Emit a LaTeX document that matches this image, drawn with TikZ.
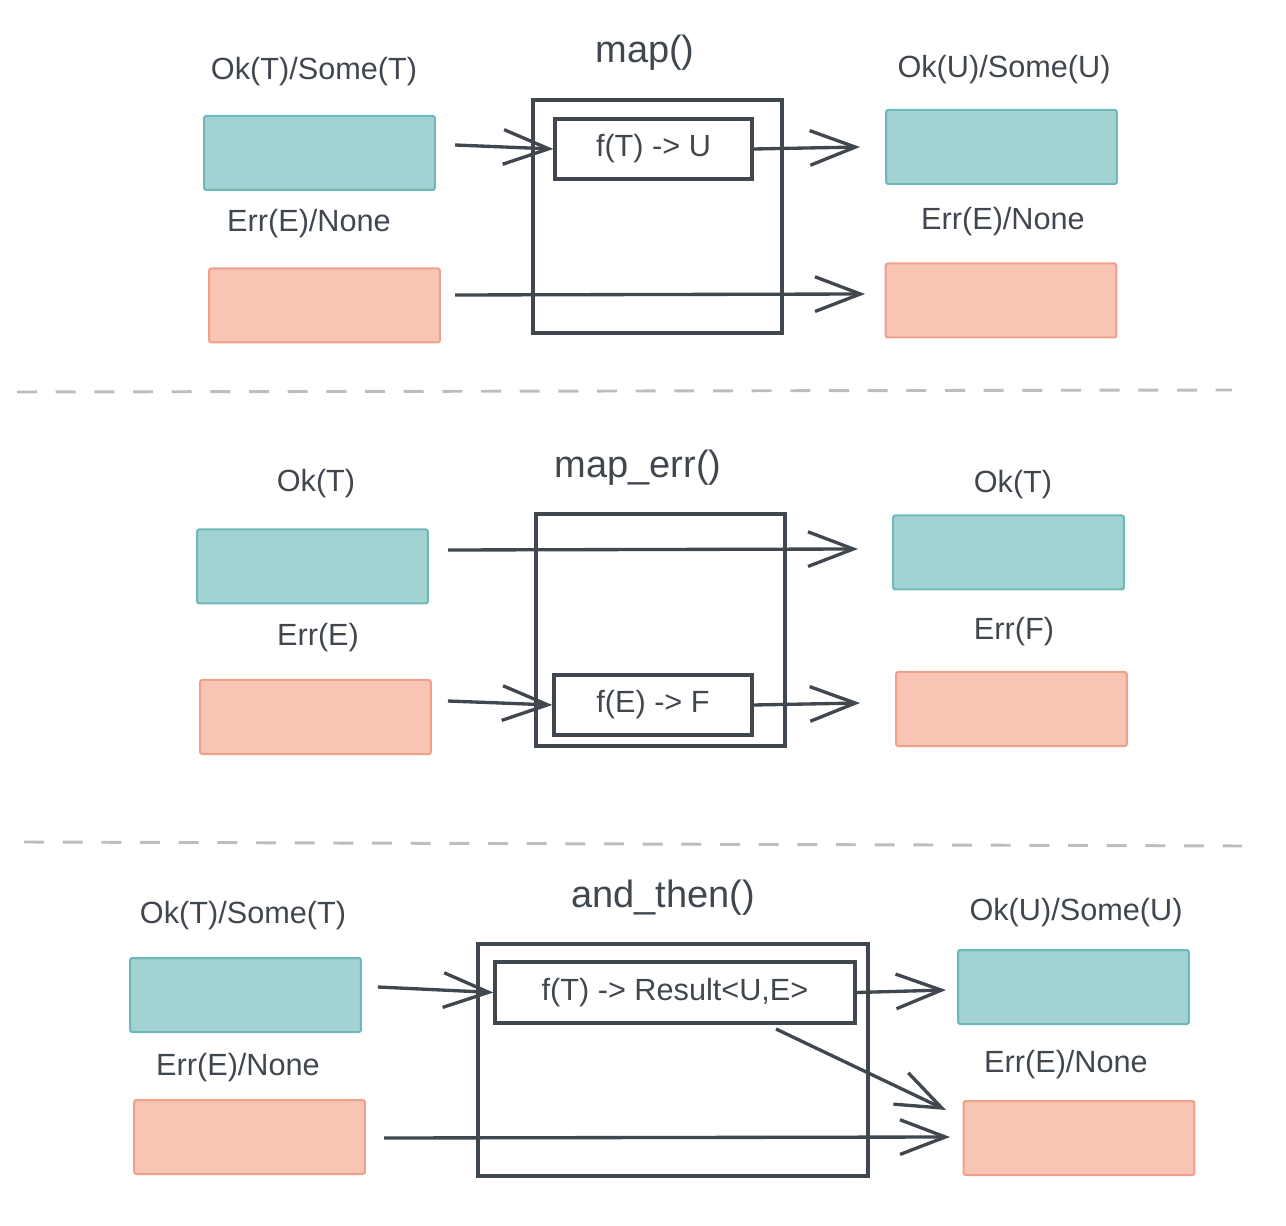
\documentclass[tikz,border=0pt]{standalone}
\usepackage{fontspec}
\setmainfont{Liberation Sans}
\usetikzlibrary{arrows.meta}
\definecolor{tealfill}{HTML}{A3D2D3}
\definecolor{tealline}{HTML}{6DB8B9}
\definecolor{salfill}{HTML}{F8C4B4}
\definecolor{salline}{HTML}{F0A08A}
\definecolor{ink}{HTML}{41474F}
\definecolor{dashgray}{HTML}{BDBDBD}
\begin{document}
\begin{tikzpicture}[x=0.75pt,y=-0.75pt,
  okbox/.style={draw=tealline,fill=tealfill,line width=1.5pt,rounded corners=1.5pt,minimum width=173pt,minimum height=55.5pt,inner sep=0pt},
  errbox/.style={draw=salline,fill=salfill,line width=1.5pt,rounded corners=1.5pt,minimum width=173pt,minimum height=55.5pt,inner sep=0pt},
  outerbox/.style={draw=ink,line width=2.5pt,inner sep=0pt},
  fnbox/.style={draw=ink,line width=2.5pt,inner sep=0pt,text=ink,font=\fontsize{23}{27}\selectfont},
  lbl/.style={text=ink,font=\fontsize{23}{27}\selectfont,inner sep=0pt},
  ttl/.style={text=ink,font=\fontsize{28.5}{33}\selectfont,inner sep=0pt},
  flow/.style={draw=ink,line width=2.5pt,-{Straight Barb[length=34pt,width=26pt,line width=2.5pt]}},
  sep/.style={draw=dashgray,line width=2.2pt,dash pattern=on 15pt off 14pt}
]
\useasboundingbox (0,0) rectangle (1286,1226);

% ---------- section 1: map() ----------
\node[ttl] (t1) at (645,53) {map()};
\node[outerbox,minimum width=186.75pt,minimum height=174.75pt] (o1) at (657.5,216.5) {};
\node[fnbox,minimum width=147.75pt,minimum height=45pt] (f1) at (653.5,149) {f(T) -> U};
\node[lbl] (l1a) at (314,72) {Ok(T)/Some(T)};
\node[okbox] (b1a) at (319.5,153) {};
\node[lbl] (l1b) at (309,224) {Err(E)/None};
\node[errbox] (b1b) at (324.5,305.5) {};
\node[lbl] (l1c) at (1004,70) {Ok(U)/Some(U)};
\node[okbox] (b1c) at (1001.5,147) {};
\node[lbl] (l1d) at (1003,222) {Err(E)/None};
\node[errbox] (b1d) at (1001,300.5) {};
\coordinate (s1a) at (455,145);
\coordinate (e1b) at (860,147);
\coordinate (s1c) at (455,295);
\coordinate (e1c) at (865,294);
\draw[flow] (s1a) -- (f1.west);
\draw[flow] (f1.east) -- (e1b);
\draw[flow] (s1c) -- (e1c);

\coordinate (d1a) at (17,392);
\coordinate (d1b) at (1232,390);
\draw[sep] (d1a) -- (d1b);

% ---------- section 2: map_err() ----------
\node[ttl] (t2) at (638,468) {map\_err()};
\node[outerbox,minimum width=186.75pt,minimum height=174pt] (o2) at (660.5,630) {};
\node[fnbox,minimum width=148.5pt,minimum height=45pt] (f2) at (653,705) {f(E) -> F};
\node[lbl] (l2a) at (316,484) {Ok(T)};
\node[okbox] (b2a) at (312.5,566.5) {};
\node[lbl] (l2b) at (318,638) {Err(E)};
\node[errbox] (b2b) at (315.5,717) {};
\node[lbl] (l2c) at (1013,485) {Ok(T)};
\node[okbox] (b2c) at (1008.5,552.5) {};
\node[lbl] (l2d) at (1014,632) {Err(F)};
\node[errbox] (b2d) at (1011.5,709) {};
\coordinate (s2a) at (448,550);
\coordinate (e2a) at (858,549);
\coordinate (s2b) at (448,701);
\coordinate (e2c) at (860,703);
\draw[flow] (s2a) -- (e2a);
\draw[flow] (s2b) -- (f2.west);
\draw[flow] (f2.east) -- (e2c);

\coordinate (d2a) at (24,842);
\coordinate (d2b) at (1242,846);
\draw[sep] (d2a) -- (d2b);

% ---------- section 3: and_then() ----------
\node[ttl] (t3) at (663,898) {and\_then()};
\node[outerbox,minimum width=292.5pt,minimum height=174pt] (o3) at (673,1060) {};
\node[fnbox,minimum width=270pt,minimum height=45.75pt] (f3) at (675,992.5) {f(T) -> Result<U,E>};
\node[lbl] (l3a) at (243,916) {Ok(T)/Some(T)};
\node[okbox] (b3a) at (245.5,995) {};
\node[lbl] (l3b) at (238,1068) {Err(E)/None};
\node[errbox] (b3b) at (249.5,1137) {};
\node[lbl] (l3c) at (1076,913) {Ok(U)/Some(U)};
\node[okbox] (b3c) at (1073.5,987) {};
\node[lbl] (l3d) at (1066,1065) {Err(E)/None};
\node[errbox] (b3d) at (1079,1138) {};
\coordinate (s3a) at (378,987);
\coordinate (e3b) at (946,990);
\coordinate (s3c) at (776,1029);
\coordinate (e3c) at (946,1110);
\coordinate (s3d) at (384,1138);
\coordinate (e3d) at (950,1137);
\draw[flow] (s3a) -- (f3.west);
\draw[flow] (f3.east) -- (e3b);
\draw[flow] (s3c) -- (e3c);
\draw[flow] (s3d) -- (e3d);
\end{tikzpicture}
\end{document}
